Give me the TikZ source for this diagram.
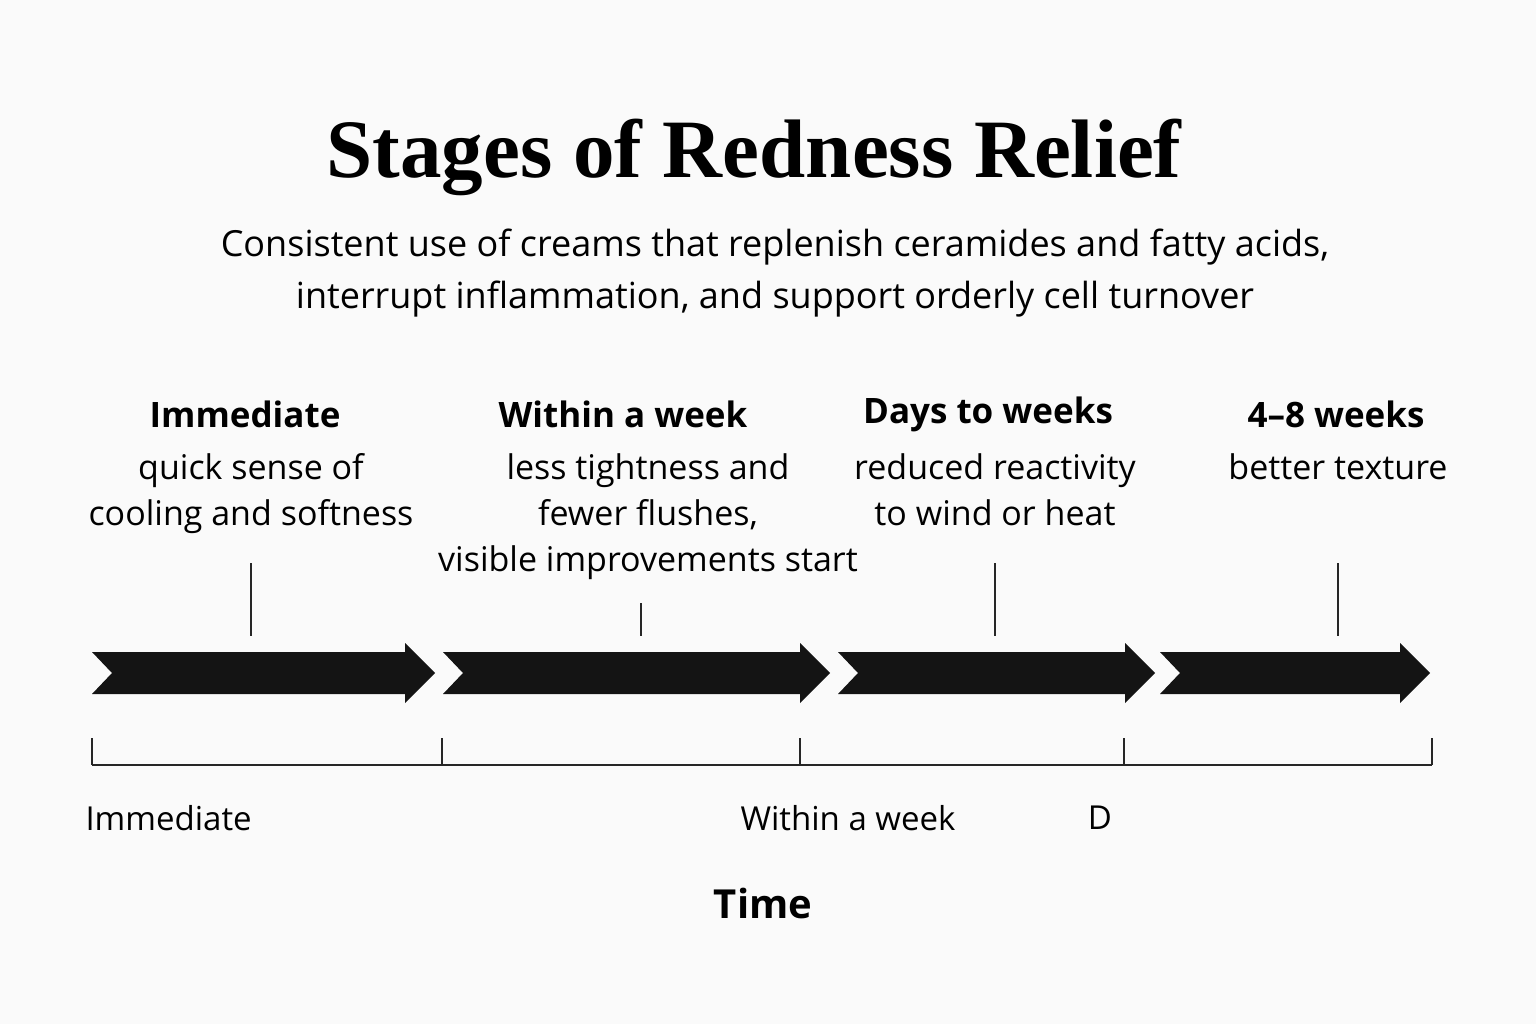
\documentclass[tikz,border=0pt]{standalone}
\usepackage{fontspec}
\setmainfont{Open Sans}
\newfontfamily\ttl{Liberation Serif}
\begin{document}
\begin{tikzpicture}[x=1pt,y=-1pt,
  hd/.style={font=\fontsize{35}{40}\selectfont\bfseries,anchor=center},
  bd/.style={font=\fontsize{34}{46}\selectfont,align=center,anchor=north},
  ar/.style={fill=black!92},
  ln/.style={line width=1.5pt,black!85}]
\fill[white!98!black] (0,0) rectangle (1536,1024);
\useasboundingbox (0,0) rectangle (1536,1024);
\node (t) at (754,157) {\ttl\bfseries\fontsize{83}{90}\selectfont Stages of Redness Relief};
\node[font=\fontsize{36}{52}\selectfont,align=center] (s) at (775,273) {Consistent use of creams that replenish ceramides and fatty acids,\\interrupt inflammation, and support orderly cell turnover};
\node[hd] (h1) at (245,414) {Immediate};
\node[bd] (b1) at (251,450) {quick sense of\\cooling and softness};
\node[hd] (h2) at (623,414) {Within a week};
\node[bd] (b2) at (648,450) {less tightness and\\fewer flushes,\\visible improvements start};
\node[hd] (h3) at (988,414) {Days to weeks};
\node[bd] (b3) at (995,450) {reduced reactivity\\to wind or heat};
\node[hd] (h4) at (1336,414) {4–8 weeks};
\node[bd] (b4) at (1338,450) {better texture};
\foreach \a/\b in {92/435,443/830,838/1155,1160/1430}{
  \fill[ar] (\a,652) -- (\b-30,652) -- (\b-30,643) -- (\b,673) -- (\b-30,703) -- (\b-30,694) -- (\a,694) -- (\a+20,673) -- cycle;}
\coordinate (u1) at (251,563); \coordinate (v1) at (251,636);
\coordinate (u2) at (641,603); \coordinate (v2) at (641,636);
\coordinate (u3) at (995,563); \coordinate (v3) at (995,636);
\coordinate (u4) at (1338,563); \coordinate (v4) at (1338,636);
\foreach \i in {1,...,4}{\draw[ln] (u\i) -- (v\i);}
\coordinate (a0) at (92,765); \coordinate (a1) at (1432,765);
\draw[ln] (a0) -- (a1);
\foreach \x in {92,442,800,1124,1432}{\draw[ln] (\x,738) -- (\x,765);}
\node[font=\fontsize{33}{38}\selectfont,anchor=west] (l1) at (82,818) {Immediate};
\node[font=\fontsize{33}{38}\selectfont] (l2) at (848,818) {Within a week};
\node[font=\fontsize{33}{38}\selectfont] (l3) at (1100,818) {D};
\node[font=\fontsize{40}{46}\selectfont\bfseries] (tm) at (763,903) {Time};
\end{tikzpicture}
\end{document}
